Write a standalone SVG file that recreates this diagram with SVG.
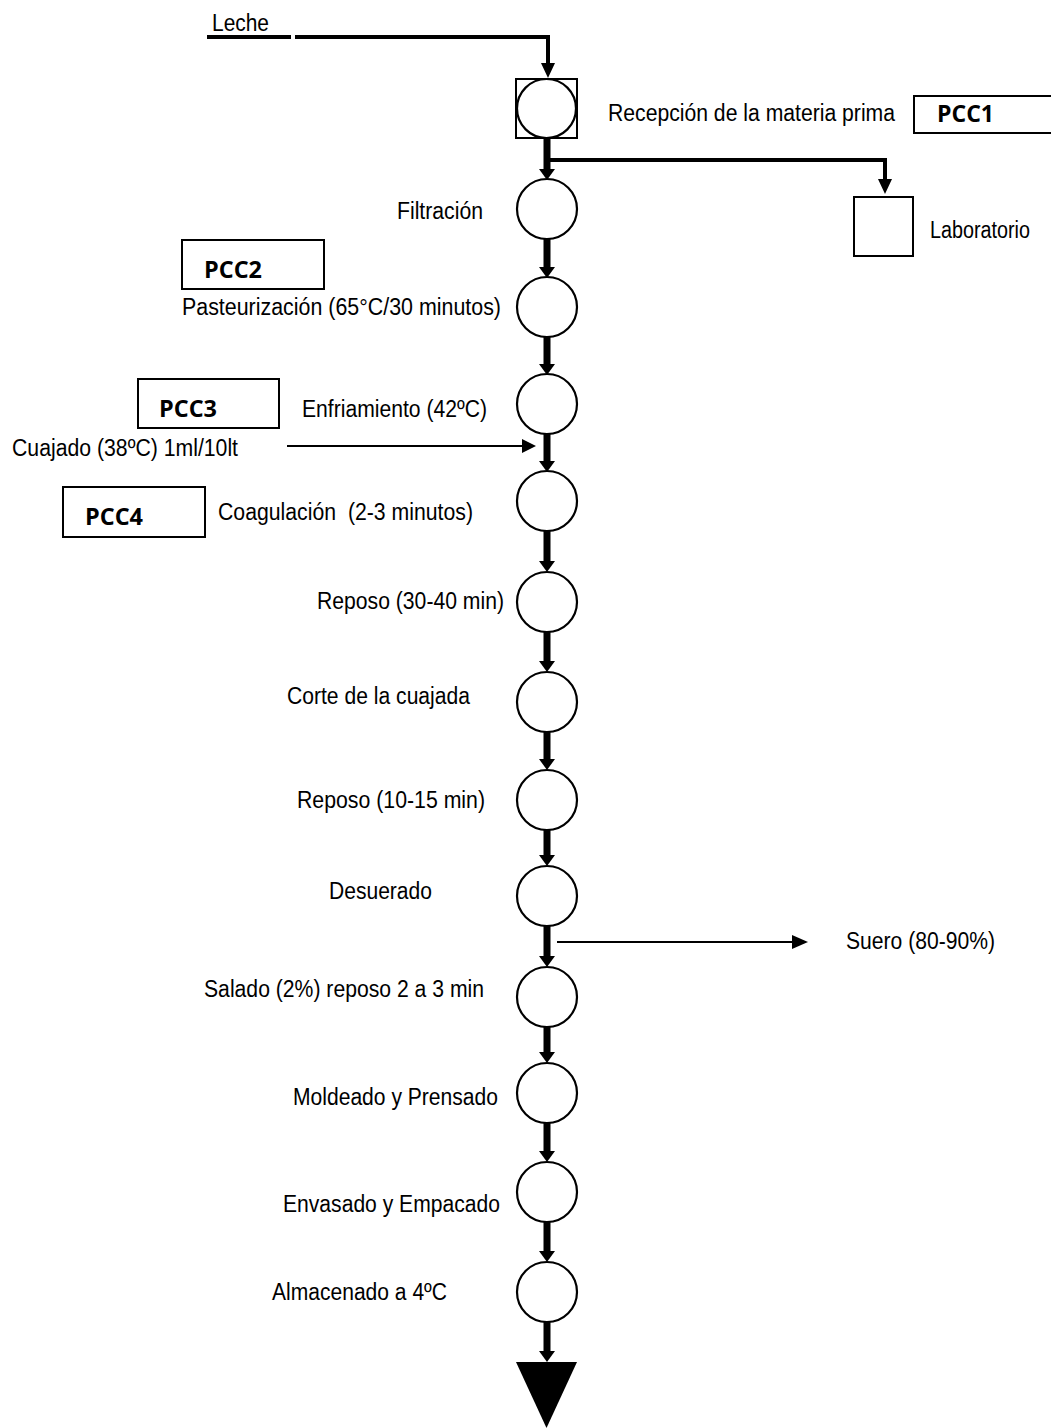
<svg xmlns="http://www.w3.org/2000/svg" width="1051" height="1428" viewBox="0 0 1051 1428">
<style>
.t{font-family:"Liberation Sans",Arial,sans-serif;font-size:23.5px;fill:#000;white-space:pre}
.b{font-family:"Open Sans","Liberation Sans",sans-serif;font-size:24px;font-weight:bold;fill:#000}
.c{fill:#fff;stroke:#000;stroke-width:2.2}
.box{fill:#fff;stroke:#000;stroke-width:2}
.sh{stroke:#000;stroke-width:7;fill:none}
.ln{stroke:#000;stroke-width:2;fill:none}
.lt{stroke:#000;stroke-width:4;fill:none}
.ah{fill:#000}
</style>
<rect width="1051" height="1428" fill="#fff"/>
<g id="connectors">
  <polyline class="lt" points="207,37 291,37"/>
  <polyline class="lt" points="295,37 548,37 548,64"/>
  <polygon class="ah" points="541,63 555,63 548,78"/>
  <polyline class="lt" points="547,160 885,160 885,180"/>
  <polygon class="ah" points="878,179 892,179 885,194"/>
  <line class="ln" x1="287" y1="446" x2="524" y2="446"/>
  <polygon class="ah" points="522,439 536,446 522,453"/>
  <line class="ln" x1="557" y1="942" x2="794" y2="942"/>
  <polygon class="ah" points="792,935 808,942 792,949"/>
  <line class="sh" x1="547" y1="138" x2="547" y2="171"/>
  <polygon class="ah" points="539,169 555,169 547,180"/>
  <line class="sh" x1="547" y1="239" x2="547" y2="269"/>
  <polygon class="ah" points="539,267 555,267 547,278"/>
  <line class="sh" x1="547" y1="337" x2="547" y2="366"/>
  <polygon class="ah" points="539,364 555,364 547,375"/>
  <line class="sh" x1="547" y1="434" x2="547" y2="463"/>
  <polygon class="ah" points="539,461 555,461 547,472"/>
  <line class="sh" x1="547" y1="531" x2="547" y2="563"/>
  <polygon class="ah" points="539,561 555,561 547,572"/>
  <line class="sh" x1="547" y1="632" x2="547" y2="663"/>
  <polygon class="ah" points="539,661 555,661 547,672"/>
  <line class="sh" x1="547" y1="732" x2="547" y2="761"/>
  <polygon class="ah" points="539,759 555,759 547,770"/>
  <line class="sh" x1="547" y1="830" x2="547" y2="857"/>
  <polygon class="ah" points="539,855 555,855 547,866"/>
  <line class="sh" x1="547" y1="926" x2="547" y2="958"/>
  <polygon class="ah" points="539,956 555,956 547,967"/>
  <line class="sh" x1="547" y1="1027" x2="547" y2="1054"/>
  <polygon class="ah" points="539,1052 555,1052 547,1063"/>
  <line class="sh" x1="547" y1="1123" x2="547" y2="1153"/>
  <polygon class="ah" points="539,1151 555,1151 547,1162"/>
  <line class="sh" x1="547" y1="1222" x2="547" y2="1253"/>
  <polygon class="ah" points="539,1251 555,1251 547,1262"/>
  <line class="sh" x1="547" y1="1322" x2="547" y2="1353"/>
  <polygon class="ah" points="539,1351 555,1351 547,1362"/>
</g>
<g id="leche"><text class="t" x="212" y="31" textLength="57" lengthAdjust="spacingAndGlyphs">Leche</text></g>
<g id="recepcion">
  <rect class="box" x="516" y="79" width="61" height="59" stroke-width="1.6"/>
  <circle class="c" cx="546.5" cy="108.5" r="29.5"/>
  <text class="t" x="608" y="121" textLength="287" lengthAdjust="spacingAndGlyphs">Recepción de la materia prima</text>
</g>
<g id="pcc1">
  <rect class="box" x="914" y="96" width="150" height="37"/>
  <text class="b" x="937" y="122" textLength="57" lengthAdjust="spacingAndGlyphs">PCC1</text>
</g>
<g id="laboratorio">
  <rect class="box" x="854" y="197" width="59" height="59"/>
  <text class="t" x="930" y="238" textLength="100" lengthAdjust="spacingAndGlyphs">Laboratorio</text>
</g>
<g id="filtracion">
  <circle class="c" cx="547" cy="209" r="30"/>
  <text class="t" x="397" y="219" textLength="86" lengthAdjust="spacingAndGlyphs">Filtración</text>
</g>
<g id="pcc2">
  <rect class="box" x="182" y="240" width="142" height="49"/>
  <text class="b" x="204" y="278" textLength="58" lengthAdjust="spacingAndGlyphs">PCC2</text>
</g>
<g id="pasteurizacion">
  <circle class="c" cx="547" cy="307" r="30"/>
  <text class="t" x="182" y="315" textLength="319" lengthAdjust="spacingAndGlyphs">Pasteurización (65°C/30 minutos)</text>
</g>
<g id="pcc3">
  <rect class="box" x="138" y="379" width="141" height="49"/>
  <text class="b" x="159" y="417" textLength="58" lengthAdjust="spacingAndGlyphs">PCC3</text>
</g>
<g id="enfriamiento">
  <circle class="c" cx="547" cy="404" r="30"/>
  <text class="t" x="302" y="417" textLength="185" lengthAdjust="spacingAndGlyphs">Enfriamiento (42ºC)</text>
</g>
<g id="cuajado"><text class="t" x="12" y="456" textLength="226" lengthAdjust="spacingAndGlyphs">Cuajado (38ºC) 1ml/10lt</text></g>
<g id="pcc4">
  <rect class="box" x="63" y="487" width="142" height="50"/>
  <text class="b" x="85" y="525" textLength="58" lengthAdjust="spacingAndGlyphs">PCC4</text>
</g>
<g id="coagulacion">
  <circle class="c" cx="547" cy="501" r="30"/>
  <text class="t" x="218" y="520" textLength="255" lengthAdjust="spacingAndGlyphs">Coagulación  (2-3 minutos)</text>
</g>
<g id="reposo1">
  <circle class="c" cx="547" cy="602" r="30"/>
  <text class="t" x="317" y="609" textLength="187" lengthAdjust="spacingAndGlyphs">Reposo (30-40 min)</text>
</g>
<g id="corte">
  <circle class="c" cx="547" cy="702" r="30"/>
  <text class="t" x="287" y="704" textLength="183" lengthAdjust="spacingAndGlyphs">Corte de la cuajada</text>
</g>
<g id="reposo2">
  <circle class="c" cx="547" cy="800" r="30"/>
  <text class="t" x="297" y="808" textLength="188" lengthAdjust="spacingAndGlyphs">Reposo (10-15 min)</text>
</g>
<g id="desuerado">
  <circle class="c" cx="547" cy="896" r="30"/>
  <text class="t" x="329" y="899" textLength="103" lengthAdjust="spacingAndGlyphs">Desuerado</text>
</g>
<g id="suero"><text class="t" x="846" y="949" textLength="149" lengthAdjust="spacingAndGlyphs">Suero (80-90%)</text></g>
<g id="salado">
  <circle class="c" cx="547" cy="997" r="30"/>
  <text class="t" x="204" y="997" textLength="280" lengthAdjust="spacingAndGlyphs">Salado (2%) reposo 2 a 3 min</text>
</g>
<g id="moldeado">
  <circle class="c" cx="547" cy="1093" r="30"/>
  <text class="t" x="293" y="1105" textLength="205" lengthAdjust="spacingAndGlyphs">Moldeado y Prensado</text>
</g>
<g id="envasado">
  <circle class="c" cx="547" cy="1192" r="30"/>
  <text class="t" x="283" y="1212" textLength="217" lengthAdjust="spacingAndGlyphs">Envasado y Empacado</text>
</g>
<g id="almacenado">
  <circle class="c" cx="547" cy="1292" r="30"/>
  <text class="t" x="272" y="1300" textLength="175" lengthAdjust="spacingAndGlyphs">Almacenado a 4ºC</text>
</g>
<g id="fin"><polygon points="516,1362 577,1362 546.5,1428" fill="#000"/></g>
</svg>
